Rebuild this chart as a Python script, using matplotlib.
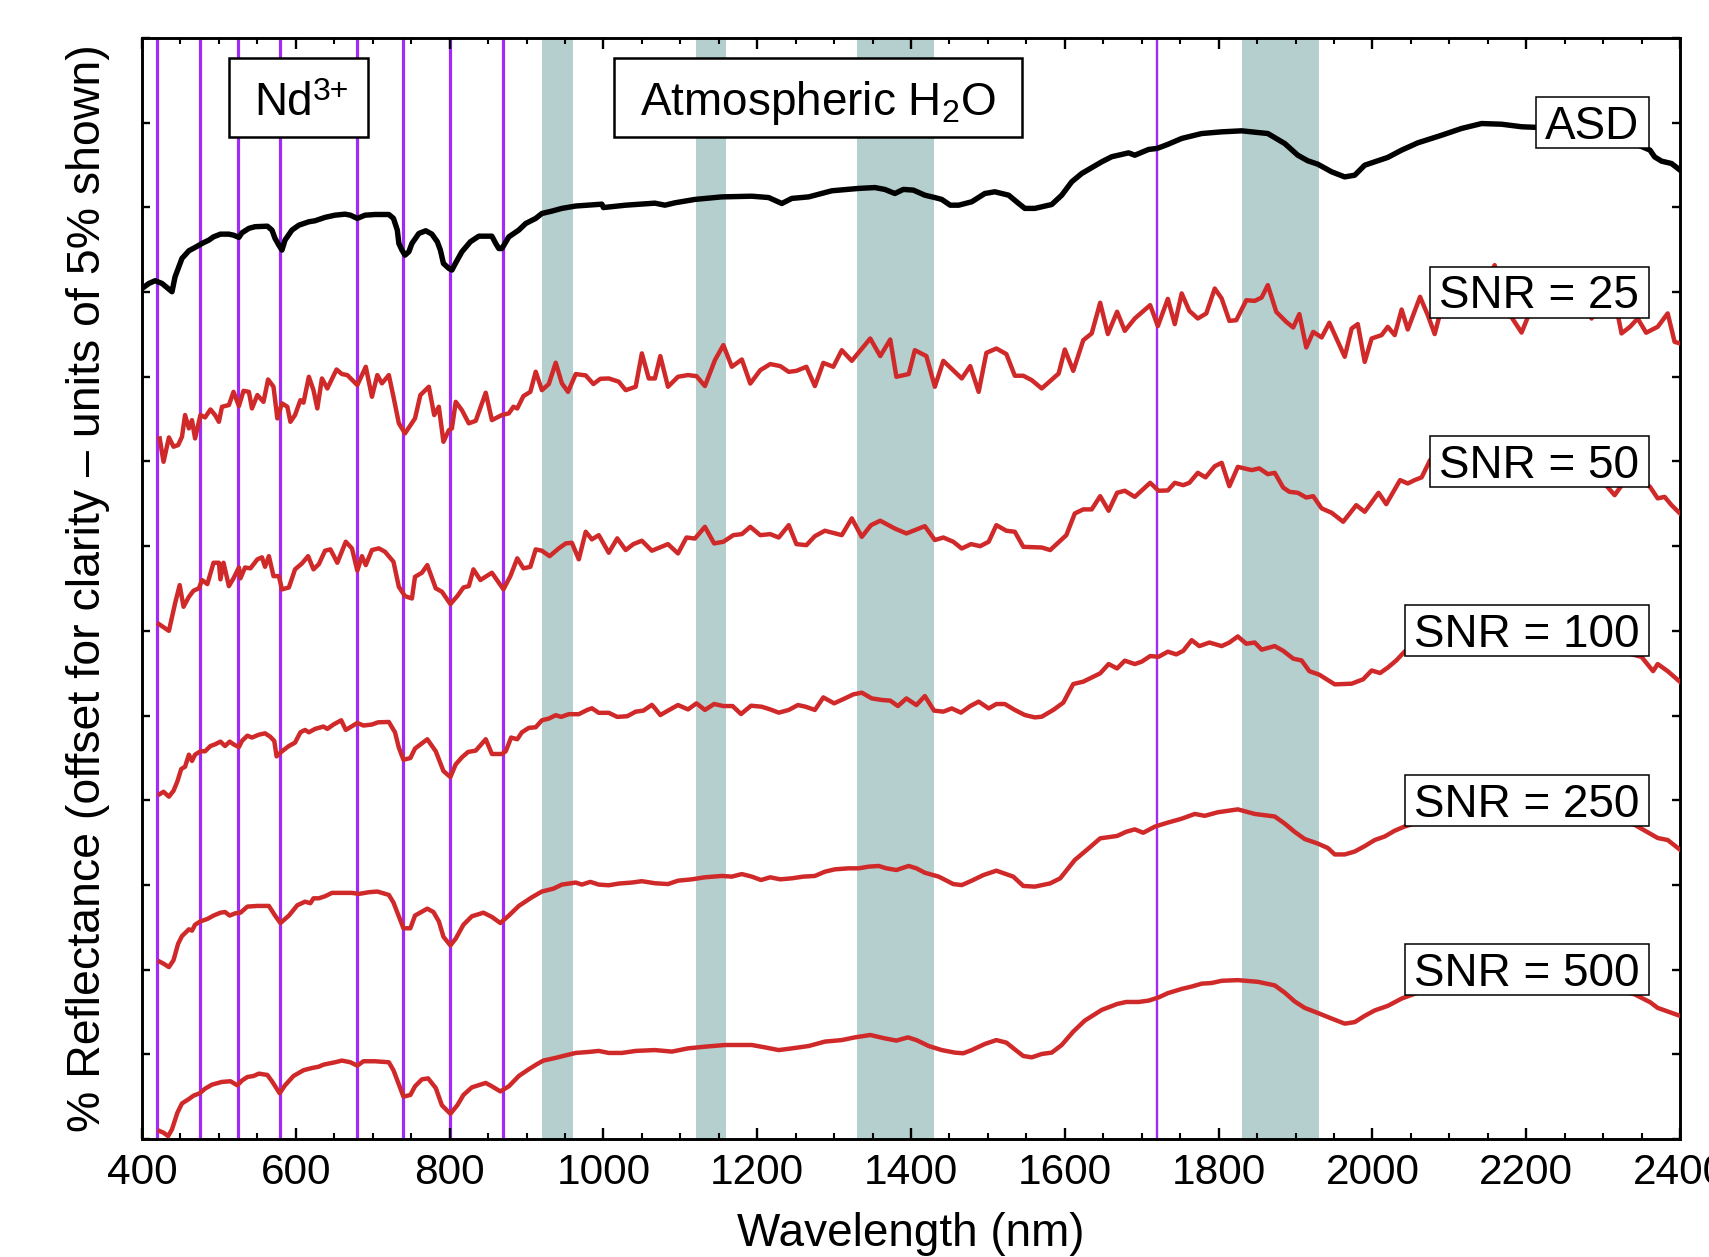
import numpy as np
import matplotlib
matplotlib.use("Agg")
import matplotlib.pyplot as plt
import matplotlib.transforms as mtransforms
from matplotlib.patches import Rectangle
from matplotlib.ticker import MultipleLocator, NullFormatter

plt.rcParams['font.family'] = ['Liberation Sans', 'DejaVu Sans']
plt.rcParams['mathtext.fontset'] = 'custom'
plt.rcParams['mathtext.rm'] = 'Liberation Sans'
plt.rcParams['mathtext.it'] = 'Liberation Sans:italic'
plt.rcParams['mathtext.bf'] = 'Liberation Sans:bold'

# ---------------------------------------------------------------- data
# Relative reflectance (%) of each spectrum; curves are stacked by `offsets`.
asd_nm = [400, 409, 417, 426, 439, 443, 452, 461, 472, 478, 487, 493, 502, 513, 519, 526, 530, 539, 547, 563,
          569, 573, 578, 582, 586, 595, 604, 617, 625, 638, 651, 664, 671, 680, 690, 703, 721, 727, 732, 734,
          738, 742, 747, 751, 760, 769, 777, 784, 788, 792, 799, 803, 808, 816, 827, 838, 855, 860, 864, 868,
          877, 890, 899, 912, 920, 933, 946, 964, 998, 1000, 1029, 1067, 1080, 1093, 1119, 1154, 1193, 1215,
          1232, 1245, 1267, 1297, 1332, 1353, 1366, 1379, 1390, 1403, 1418, 1431, 1440, 1451, 1462, 1479, 1496,
          1509, 1527, 1540, 1548, 1561, 1583, 1596, 1609, 1622, 1648, 1661, 1683, 1691, 1709, 1720, 1734, 1752,
          1778, 1804, 1830, 1864, 1886, 1903, 1916, 1929, 1947, 1964, 1977, 1990, 2007, 2020, 2038, 2059, 2090,
          2116, 2142, 2168, 2194, 2215, 2254, 2298, 2341, 2361, 2367, 2376, 2389, 2400]
asd_val = [0.21, 0.51, 0.67, 0.51, 0.02, 0.90, 1.99, 2.44, 2.71, 2.87, 3.07, 3.26, 3.42, 3.42, 3.36, 3.23, 3.50,
           3.76, 3.86, 3.89, 3.66, 3.17, 2.77, 2.48, 3.07, 3.66, 3.95, 4.15, 4.21, 4.41, 4.54, 4.60, 4.54, 4.35,
           4.54, 4.58, 4.58, 4.35, 3.66, 2.87, 2.48, 2.18, 2.38, 2.87, 3.46, 3.62, 3.42, 2.97, 2.48, 1.69, 1.40,
           1.30, 1.73, 2.38, 2.97, 3.30, 3.30, 2.87, 2.57, 2.57, 3.26, 3.66, 4.05, 4.35, 4.64, 4.78, 4.94, 5.08,
           5.19, 4.99, 5.13, 5.25, 5.13, 5.27, 5.47, 5.62, 5.66, 5.58, 5.23, 5.53, 5.62, 5.98, 6.12, 6.17, 6.06,
           5.82, 6.06, 6.02, 5.72, 5.58, 5.47, 5.13, 5.13, 5.33, 5.82, 5.92, 5.72, 5.23, 4.94, 4.94, 5.17, 5.72,
           6.51, 7.00, 7.69, 7.99, 8.22, 8.08, 8.42, 8.48, 8.72, 9.07, 9.36, 9.46, 9.52, 9.36, 8.77, 8.08, 7.75,
           7.55, 7.10, 6.80, 6.90, 7.49, 7.75, 7.95, 8.38, 8.81, 9.26, 9.66, 9.95, 9.91, 9.76, 9.72, 9.52, 9.17,
           8.77, 8.38, 7.98, 7.73, 7.59, 7.20]

snr25_nm = [423, 428, 435, 441, 447, 452, 456, 461, 465, 469, 476, 482, 489, 495, 500, 504, 513, 519, 526, 532,
            539, 543, 550, 558, 564, 571, 576, 582, 589, 593, 599, 606, 610, 617, 623, 628, 634, 641, 653, 660,
            667, 680, 691, 699, 706, 712, 721, 727, 734, 742, 755, 762, 773, 780, 786, 792, 799, 803, 808, 816,
            825, 834, 847, 855, 868, 877, 883, 888, 896, 905, 912, 920, 929, 938, 946, 954, 964, 977, 987, 996,
            1007, 1020, 1029, 1042, 1050, 1059, 1067, 1074, 1084, 1097, 1110, 1121, 1132, 1145, 1156, 1167, 1180,
            1191, 1204, 1217, 1230, 1241, 1251, 1264, 1275, 1286, 1299, 1310, 1323, 1347, 1360, 1373, 1381, 1397,
            1405, 1420, 1431, 1442, 1466, 1477, 1488, 1498, 1511, 1524, 1535, 1546, 1557, 1570, 1592, 1600, 1611,
            1624, 1635, 1646, 1656, 1668, 1678, 1691, 1711, 1721, 1734, 1743, 1752, 1762, 1773, 1784, 1795, 1804,
            1814, 1823, 1836, 1847, 1856, 1864, 1875, 1888, 1897, 1905, 1914, 1923, 1934, 1944, 1964, 1973, 1981,
            1990, 1999, 2012, 2020, 2029, 2038, 2046, 2062, 2072, 2081, 2088, 2103, 2124, 2142, 2159, 2172, 2194,
            2211, 2233, 2254, 2272, 2285, 2298, 2317, 2324, 2335, 2345, 2356, 2371, 2384, 2393, 2400]
snr25_val = [1.36, -0.02, 1.42, 0.87, 0.97, 1.46, 2.74, 1.95, 2.44, 1.36, 2.74, 2.60, 3.07, 2.74, 2.34, 3.23,
             3.33, 4.11, 3.27, 4.17, 4.11, 3.13, 3.92, 3.52, 4.84, 4.41, 2.54, 3.43, 3.23, 2.34, 2.74, 3.62, 3.47,
             5.00, 4.21, 3.13, 4.90, 4.31, 5.43, 5.16, 5.10, 4.51, 5.59, 3.82, 5.10, 4.61, 5.10, 3.82, 2.25, 1.66,
             2.54, 3.92, 4.41, 2.74, 3.23, 1.16, 1.85, 1.95, 3.52, 3.03, 2.25, 2.40, 4.06, 2.44, 2.74, 2.84, 3.23,
             3.13, 3.86, 4.11, 5.30, 4.21, 4.57, 5.83, 4.61, 4.11, 5.16, 5.08, 4.57, 4.88, 4.90, 4.71, 4.21, 4.41,
             6.38, 4.90, 4.90, 6.22, 4.41, 5.00, 5.10, 5.04, 4.45, 5.98, 6.87, 5.59, 6.02, 4.60, 5.39, 5.75, 5.63,
             5.29, 5.35, 5.59, 4.45, 5.82, 5.59, 6.57, 5.94, 7.26, 6.22, 7.20, 5.00, 5.16, 6.57, 6.22, 4.41, 5.94,
             4.90, 5.63, 4.11, 6.41, 6.67, 6.34, 5.06, 5.06, 4.80, 4.31, 5.19, 6.61, 5.35, 7.16, 7.56, 9.37, 7.52,
             8.84, 7.71, 8.44, 9.23, 7.99, 9.60, 8.11, 9.92, 8.89, 8.44, 8.74, 10.21, 9.62, 8.30, 8.34, 9.52, 9.48,
             9.68, 10.41, 8.83, 8.24, 7.91, 8.70, 6.73, 7.65, 7.32, 8.19, 6.18, 7.85, 8.11, 5.88, 7.26, 7.46, 7.95,
             7.46, 8.97, 7.79, 9.72, 8.64, 7.52, 8.74, 9.52, 8.74, 9.92, 11.59, 9.13, 7.61, 9.52, 8.93, 9.72, 9.33,
             8.44, 9.52, 9.13, 7.56, 7.95, 8.44, 7.60, 7.95, 8.74, 7.06, 6.97]

snr50_nm = [422, 435, 443, 449, 454, 461, 467, 474, 478, 485, 493, 500, 502, 506, 513, 519, 526, 528, 534, 541,
            550, 556, 560, 565, 571, 578, 582, 591, 599, 608, 616, 623, 630, 638, 645, 654, 665, 673, 680, 686,
            691, 699, 708, 716, 727, 734, 742, 751, 755, 764, 771, 782, 790, 801, 810, 818, 825, 831, 840, 855,
            870, 879, 888, 896, 905, 912, 920, 930, 942, 951, 959, 968, 977, 985, 994, 1007, 1018, 1029, 1039,
            1050, 1063, 1084, 1097, 1108, 1119, 1132, 1144, 1156, 1169, 1180, 1191, 1204, 1217, 1228, 1241, 1251,
            1264, 1275, 1288, 1310, 1323, 1336, 1348, 1360, 1379, 1394, 1418, 1431, 1442, 1455, 1466, 1478, 1490,
            1501, 1511, 1524, 1535, 1546, 1570, 1581, 1602, 1613, 1624, 1635, 1646, 1657, 1668, 1678, 1691, 1711,
            1722, 1734, 1743, 1754, 1762, 1773, 1783, 1795, 1804, 1814, 1825, 1843, 1853, 1864, 1873, 1884, 1892,
            1903, 1914, 1923, 1934, 1947, 1962, 1979, 1990, 2008, 2018, 2036, 2046, 2055, 2064, 2075, 2090, 2107,
            2124, 2146, 2168, 2189, 2211, 2233, 2254, 2276, 2298, 2315, 2332, 2350, 2361, 2371, 2380, 2389, 2400]
snr50_val = [0.40, 0.00, 1.62, 2.70, 1.42, 2.01, 2.37, 2.51, 3.00, 2.76, 4.02, 4.02, 3.04, 4.02, 2.64, 3.10,
             3.74, 3.10, 3.74, 3.69, 4.22, 4.34, 3.78, 4.41, 3.23, 3.23, 2.45, 2.56, 3.63, 3.98, 4.41, 3.63, 3.94,
             4.73, 4.81, 4.02, 5.26, 4.87, 3.55, 4.41, 3.88, 4.77, 4.87, 4.67, 4.08, 2.60, 2.05, 1.91, 3.19, 3.43,
             3.88, 2.51, 2.31, 1.58, 2.05, 2.56, 2.64, 3.63, 3.00, 3.43, 2.45, 3.23, 4.28, 3.69, 3.78, 4.81, 4.73,
             4.41, 4.87, 5.16, 5.20, 4.22, 5.85, 5.40, 5.65, 4.61, 5.46, 4.77, 5.12, 5.32, 4.73, 5.12, 4.57, 5.51,
             5.45, 6.14, 5.16, 5.26, 5.65, 5.71, 6.14, 5.65, 5.71, 5.51, 6.24, 5.12, 5.06, 5.59, 5.91, 5.65, 6.64,
             5.55, 6.24, 6.50, 6.04, 5.75, 6.18, 5.36, 5.51, 5.26, 4.86, 5.12, 5.00, 5.26, 6.24, 5.91, 5.85, 4.96,
             4.92, 4.77, 5.65, 6.93, 7.17, 7.17, 7.95, 7.09, 8.15, 8.27, 7.91, 8.74, 8.27, 8.29, 8.74, 8.60, 8.74,
             9.33, 9.06, 9.72, 9.92, 8.54, 9.68, 9.49, 9.59, 9.25, 9.33, 8.46, 8.21, 8.15, 7.87, 7.95, 7.23, 6.97,
             6.44, 7.42, 7.03, 8.15, 7.48, 8.90, 8.70, 8.90, 9.06, 10.08, 10.47, 10.67, 10.28, 10.87, 10.47, 11.06,
             10.67, 10.28, 9.88, 9.49, 8.90, 8.01, 9.09, 8.90, 8.50, 7.82, 7.91, 7.42, 6.93]

snr100_nm = [423, 428, 435, 441, 446, 451, 456, 461, 465, 469, 476, 482, 489, 495, 502, 508, 514, 519, 526, 530,
             537, 543, 552, 560, 567, 572, 575, 582, 591, 599, 606, 612, 617, 625, 636, 641, 649, 659, 665, 680,
             688, 699, 707, 721, 729, 734, 740, 749, 755, 771, 782, 792, 801, 808, 816, 824, 834, 847, 855, 868,
             873, 880, 888, 894, 903, 912, 920, 929, 938, 945, 955, 968, 979, 985, 994, 1007, 1018, 1031, 1042,
             1052, 1063, 1067, 1074, 1084, 1097, 1110, 1121, 1132, 1144, 1156, 1168, 1179, 1192, 1206, 1217, 1228,
             1241, 1253, 1263, 1275, 1286, 1300, 1314, 1325, 1336, 1349, 1362, 1373, 1383, 1394, 1407, 1418, 1430,
             1442, 1453, 1465, 1477, 1488, 1501, 1511, 1522, 1535, 1548, 1561, 1570, 1585, 1598, 1611, 1624, 1646,
             1657, 1668, 1678, 1691, 1700, 1711, 1722, 1734, 1745, 1754, 1765, 1775, 1788, 1804, 1814, 1825, 1836,
             1847, 1856, 1873, 1884, 1897, 1908, 1918, 1931, 1951, 1973, 1988, 1999, 2010, 2020, 2031, 2042, 2064,
             2090, 2116, 2142, 2168, 2194, 2220, 2254, 2289, 2324, 2350, 2365, 2371, 2384, 2400]
snr100_val = [0.36, 0.50, 0.21, 0.56, 1.11, 1.84, 1.98, 2.69, 2.32, 2.69, 2.89, 2.89, 3.20, 3.30, 3.46, 3.20,
              3.46, 3.30, 3.14, 3.50, 3.81, 3.70, 3.87, 3.95, 3.74, 3.50, 2.59, 2.89, 3.20, 3.40, 4.01, 4.15, 4.01,
              4.21, 4.35, 4.21, 4.47, 4.72, 4.15, 4.56, 4.41, 4.47, 4.60, 4.62, 4.01, 3.10, 2.39, 2.49, 3.05, 3.60,
              2.89, 1.72, 1.37, 2.12, 2.53, 2.85, 2.93, 3.60, 2.73, 2.73, 2.89, 3.70, 3.60, 4.01, 4.27, 4.31, 4.72,
              4.82, 5.02, 4.92, 5.08, 5.08, 5.33, 5.43, 5.16, 5.16, 4.92, 4.96, 5.23, 5.29, 5.63, 5.43, 5.03, 5.29,
              5.62, 5.36, 5.72, 5.33, 5.68, 5.56, 5.56, 5.09, 5.58, 5.52, 5.36, 5.17, 5.33, 5.62, 5.52, 5.33, 6.07,
              5.72, 6.01, 6.25, 6.35, 6.01, 5.92, 5.88, 5.56, 6.01, 5.62, 6.15, 5.29, 5.23, 5.42, 5.17, 5.56, 5.82,
              5.42, 5.68, 5.68, 5.33, 5.03, 4.89, 4.93, 5.33, 5.76, 6.86, 7.00, 7.49, 8.04, 7.78, 8.24, 8.04, 8.18,
              8.51, 8.47, 8.77, 8.61, 8.82, 9.45, 9.10, 9.31, 9.10, 9.31, 9.67, 9.24, 9.31, 8.89, 9.10, 8.82, 8.36,
              8.25, 7.62, 7.41, 6.84, 6.88, 7.14, 7.66, 7.51, 7.83, 8.25, 8.78, 9.31, 9.62, 9.83, 9.94, 9.88, 9.79,
              9.67, 9.45, 9.20, 8.78, 8.46, 7.62, 8.04, 7.62, 6.99]

snr250_nm = [423, 428, 435, 441, 447, 452, 461, 465, 469, 476, 485, 493, 502, 508, 514, 521, 528, 537, 550, 558,
             565, 573, 580, 591, 602, 612, 619, 623, 630, 638, 647, 660, 673, 682, 695, 706, 721, 727, 734, 740,
             749, 755, 771, 779, 786, 792, 801, 808, 818, 829, 844, 855, 866, 877, 890, 907, 920, 935, 946, 964,
             972, 983, 994, 1007, 1020, 1037, 1050, 1067, 1084, 1097, 1115, 1132, 1154, 1167, 1180, 1193, 1205,
             1217, 1230, 1245, 1260, 1275, 1288, 1301, 1319, 1332, 1345, 1358, 1368, 1381, 1397, 1407, 1418, 1436,
             1455, 1466, 1479, 1494, 1511, 1533, 1546, 1561, 1581, 1594, 1613, 1631, 1646, 1668, 1680, 1691, 1702,
             1717, 1734, 1752, 1769, 1782, 1799, 1825, 1847, 1873, 1886, 1899, 1912, 1929, 1942, 1951, 1964, 1977,
             1990, 2003, 2016, 2029, 2042, 2072, 2103, 2133, 2168, 2202, 2237, 2272, 2306, 2341, 2361, 2371, 2384,
             2400]
snr250_val = [0.47, 0.35, 0.15, 0.56, 1.53, 1.98, 2.38, 2.30, 2.65, 2.85, 2.99, 3.19, 3.36, 3.40, 3.19, 3.32,
              3.36, 3.72, 3.76, 3.76, 3.76, 3.19, 2.75, 3.19, 3.80, 4.01, 3.92, 4.21, 4.21, 4.33, 4.53, 4.53, 4.53,
              4.47, 4.57, 4.61, 4.41, 3.96, 3.15, 2.44, 2.44, 3.19, 3.60, 3.40, 2.85, 1.94, 1.43, 1.83, 2.65, 3.15,
              3.36, 3.11, 2.75, 3.19, 3.76, 4.27, 4.61, 4.78, 5.02, 5.14, 5.02, 5.18, 5.02, 4.98, 5.08, 5.14, 5.22,
              5.10, 5.05, 5.25, 5.33, 5.45, 5.53, 5.49, 5.64, 5.49, 5.29, 5.45, 5.33, 5.39, 5.49, 5.53, 5.78, 5.92,
              5.98, 5.98, 6.08, 6.12, 5.98, 5.88, 6.12, 5.98, 5.72, 5.49, 5.05, 4.99, 5.25, 5.58, 5.84, 5.49, 4.94,
              4.90, 5.09, 5.39, 6.47, 7.16, 7.75, 7.89, 8.14, 8.28, 8.08, 8.44, 8.68, 8.91, 9.19, 9.08, 9.29, 9.46,
              9.19, 9.04, 8.62, 8.13, 7.71, 7.44, 7.18, 6.80, 6.80, 6.97, 7.29, 7.65, 7.86, 8.20, 8.45, 8.87, 9.19,
              9.40, 9.54, 9.40, 9.29, 9.19, 8.98, 8.55, 8.03, 7.77, 7.65, 7.08]

snr500_nm = [423, 428, 434, 439, 446, 452, 461, 467, 475, 482, 491, 504, 515, 524, 530, 537, 545, 552, 563, 569,
             579, 586, 597, 610, 621, 630, 636, 651, 660, 671, 680, 688, 703, 721, 727, 734, 740, 749, 755, 764,
             772, 782, 790, 801, 810, 818, 829, 847, 855, 866, 877, 890, 903, 914, 922, 938, 951, 964, 981, 994,
             1007, 1024, 1042, 1067, 1089, 1110, 1132, 1158, 1193, 1210, 1228, 1245, 1267, 1288, 1310, 1327, 1347,
             1366, 1381, 1396, 1407, 1423, 1440, 1457, 1468, 1479, 1496, 1511, 1524, 1535, 1546, 1557, 1570, 1583,
             1596, 1611, 1626, 1648, 1668, 1680, 1696, 1709, 1722, 1734, 1752, 1765, 1778, 1791, 1804, 1825, 1851,
             1873, 1886, 1899, 1912, 1929, 1947, 1964, 1977, 1990, 2003, 2020, 2038, 2072, 2103, 2133, 2168, 2202,
             2237, 2272, 2306, 2341, 2361, 2371, 2384, 2400]
snr500_val = [0.47, 0.37, 0.17, 0.57, 1.55, 2.10, 2.36, 2.56, 2.70, 2.97, 3.21, 3.37, 3.41, 3.17, 3.45, 3.66,
              3.72, 3.86, 3.78, 3.41, 2.70, 3.17, 3.72, 4.06, 4.19, 4.27, 4.39, 4.53, 4.63, 4.53, 4.33, 4.59, 4.59,
              4.53, 4.06, 3.21, 2.50, 2.60, 3.11, 3.52, 3.58, 3.01, 1.99, 1.49, 1.99, 2.60, 3.05, 3.31, 3.11, 2.81,
              3.11, 3.72, 4.12, 4.43, 4.63, 4.79, 4.94, 5.08, 5.14, 5.20, 5.08, 5.08, 5.20, 5.25, 5.16, 5.35, 5.45,
              5.55, 5.55, 5.41, 5.25, 5.35, 5.49, 5.75, 5.84, 6.00, 6.14, 5.94, 5.81, 6.00, 5.84, 5.49, 5.25, 5.10,
              5.06, 5.25, 5.61, 5.84, 5.69, 5.29, 4.90, 4.82, 5.02, 5.10, 5.55, 6.34, 6.99, 7.62, 7.97, 8.09, 8.09,
              8.17, 8.36, 8.61, 8.86, 9.00, 9.17, 9.21, 9.34, 9.38, 9.28, 9.07, 8.64, 8.12, 7.74, 7.44, 7.11, 6.81,
              6.90, 7.27, 7.59, 7.86, 8.29, 8.86, 9.28, 9.49, 9.55, 9.47, 9.34, 9.17, 8.96, 8.54, 8.08, 7.74, 7.53,
              7.27]

series_names = ["ASD", "SNR = 25", "SNR = 50", "SNR = 100", "SNR = 250", "SNR = 500"]
series_nm = [asd_nm, snr25_nm, snr50_nm, snr100_nm, snr250_nm, snr500_nm]
series_val = [asd_val, snr25_val, snr50_val, snr100_val, snr250_val, snr500_val]
offsets = [50, 40, 30, 20, 10, 0]          # vertical stacking, in % reflectance
label_levels = [60, 50, 40, 30, 20, 10]    # height of each name tag

nd_lines = [420, 475, 525, 580, 680, 740, 800, 870]   # Nd3+ absorption features (nm)
extra_line = 1720
h2o_bands = [(920, 960), (1120, 1160), (1330, 1430), (1830, 1930)]

# ---------------------------------------------------------------- figure
W, H, DPI = 1709, 1257, 100
fig = plt.figure(figsize=(W / DPI, H / DPI), dpi=DPI)
ax = fig.add_axes([142 / W, 1 - 1139 / H, 1538 / W, 1101 / H])

RED = "#d0292a"
PURPLE = "#a12bf2"
TEAL = "#b4cfce"

for lo, hi in h2o_bands:
    ax.axvspan(lo, hi, color=TEAL, lw=0, zorder=0)
for x in nd_lines:
    ax.axvline(x, color=PURPLE, lw=2.3, zorder=1)
ax.axvline(extra_line, color=PURPLE, lw=1.7, zorder=1)

for i, (nm, val, off) in enumerate(zip(series_nm, series_val, offsets)):
    y = np.asarray(val) + off
    if i == 0:
        ax.plot(nm, y, color="black", lw=3.9, solid_joinstyle="round", zorder=3)
    else:
        ax.plot(nm, y, color=RED, lw=3.2, solid_joinstyle="round", zorder=3)

ax.set_xlim(400, 2400)
ax.set_ylim(0, 65)
ax.xaxis.set_major_locator(MultipleLocator(200))
ax.xaxis.set_minor_locator(MultipleLocator(50))
ax.yaxis.set_major_locator(MultipleLocator(5))
ax.yaxis.set_major_formatter(NullFormatter())
ax.tick_params(axis="x", which="major", direction="in", length=8, width=1.7,
               top=True, bottom=True, labelsize=30.5, pad=10)
ax.tick_params(axis="x", which="minor", direction="in", length=4.5, width=1.5,
               top=True, bottom=True)
ax.tick_params(axis="y", which="major", direction="in", length=5.5, width=1.7,
               left=True, right=True)
for s in ax.spines.values():
    s.set_linewidth(2.1)

ax.set_xlabel("Wavelength (nm)", fontsize=33)
ax.xaxis.set_label_coords(0.5, -0.066)
ax.set_ylabel("% Reflectance (offset for clarity \u2013 units of 5% shown)", fontsize=33.5)
ax.yaxis.set_label_coords(-0.021, 0.5)

# header boxes
def ax_x(px):
    return (px - 142) / 1538


def ax_y(py):
    return (1139 - py) / 1101


for x0, x1 in [(229, 368), (614, 1022)]:
    ax.add_patch(Rectangle((ax_x(x0), ax_y(137)), (x1 - x0) / 1538, 79 / 1101,
                           transform=ax.transAxes, facecolor="white", edgecolor="black",
                           lw=1.8, zorder=5))
ax.text(ax_x(254), ax_y(115), "Nd", transform=ax.transAxes,
        ha="left", va="baseline", fontsize=33, zorder=6)
ax.text(ax_x(313), ax_y(100), "3+", transform=ax.transAxes,
        ha="left", va="baseline", fontsize=23, zorder=6)
ax.text(ax_x(818), ax_y(115), "Atmospheric H$_2$O", transform=ax.transAxes,
        ha="center", va="baseline", fontsize=33, zorder=6)

# name tags at the right end of each spectrum
tag_right = 2360
cap_half = 0.716 * 33 / 2 / 72
trans = ax.transData + mtransforms.ScaledTranslation(-10 / DPI, -cap_half, fig.dpi_scale_trans)
tags = []
for name, lvl in zip(series_names, label_levels):
    t = ax.text(tag_right, lvl, name, transform=trans, ha="right", va="baseline",
                fontsize=33, zorder=6)
    tags.append((t, lvl))

fig.canvas.draw()
renderer = fig.canvas.get_renderer()
inv = ax.transAxes.inverted()
for t, lvl in tags:
    bb = t.get_window_extent(renderer)
    xr, yc = ax.transData.transform((tag_right, lvl))
    half_h = 25.5
    (ax0, ay0) = inv.transform((bb.x0 - 9, yc - half_h))
    (ax1, ay1) = inv.transform((xr, yc + half_h))
    ax.add_patch(Rectangle((ax0, ay0), ax1 - ax0, ay1 - ay0, transform=ax.transAxes,
                           facecolor="white", edgecolor="black", lw=1.1, zorder=5))

fig.savefig("out.png", dpi=DPI)
